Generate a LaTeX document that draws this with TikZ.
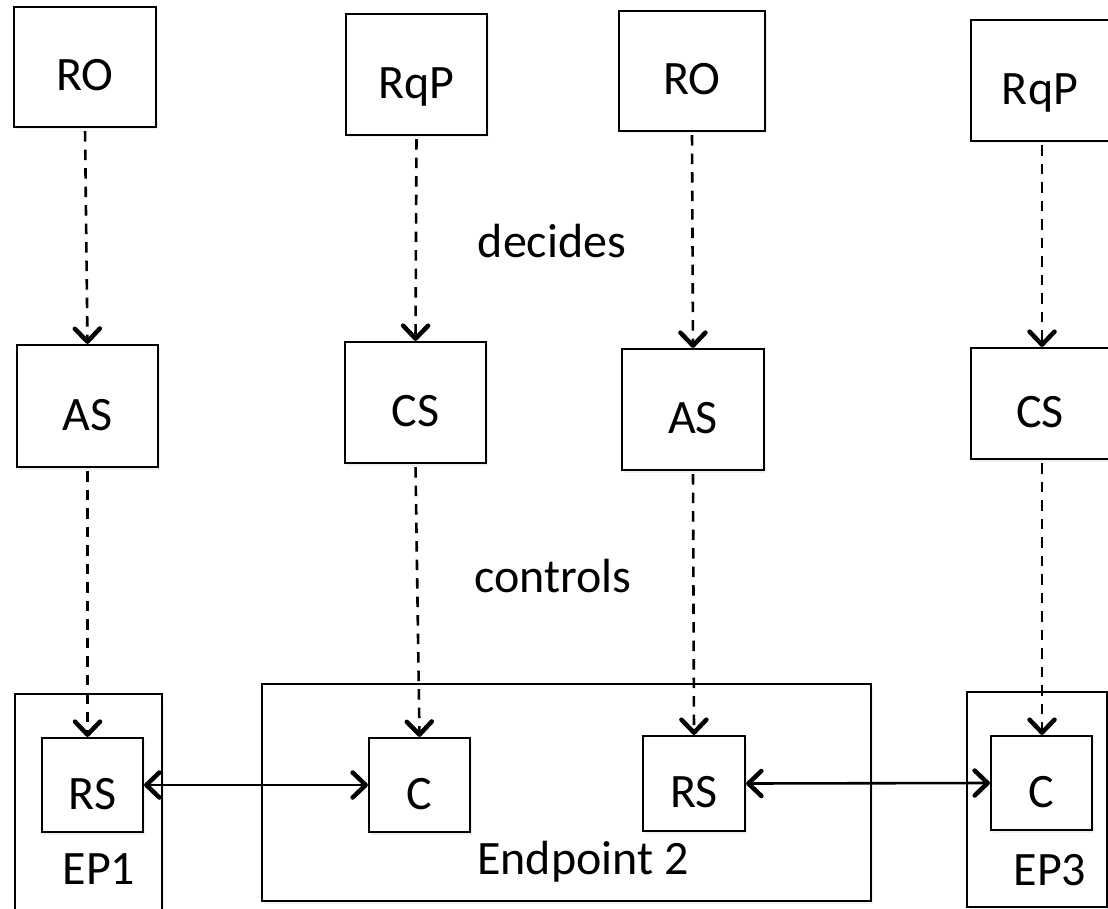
\documentclass[tikz,border=0pt]{standalone}
\usepackage{fontspec}
\setmainfont{Carlito}
\usetikzlibrary{arrows.meta,shadows}
\tikzset{
  box/.style={draw, line width=2.2pt, fill=white, inner sep=0pt,
    text height=48pt, text depth=0pt,
    font=\fontsize{48}{50}\selectfont,
    drop shadow={shadow xshift=2pt, shadow yshift=-2.5pt, fill=black!12}},
  lbl/.style={inner sep=0pt, anchor=base, font=\fontsize{48}{50}\selectfont},
  chev/.tip={Straight Barb[length=13pt, width=25pt, line width=4.5pt, round]},
  ctrl/.style={line width=2.6pt, dash pattern=on 10.5pt off 8pt, -chev, shorten <=3pt},
  link/.style={line width=2.6pt, chev-chev},
}
\begin{document}
\begin{tikzpicture}[x=1pt, y=-1pt]
\useasboundingbox (0,0) rectangle (1108,909);
\clip (0,0) rectangle (1108,909);

% top row
\node[box, minimum width=142pt, minimum height=120pt] (ro1)  at (85,67)     {RO};
\node[box, minimum width=141pt, minimum height=121pt] (rqp1) at (416.5,74.5) {RqP};
\node[box, minimum width=146pt, minimum height=120pt] (ro2)  at (692,71)    {RO};
\node[box, minimum width=138pt, minimum height=121pt] (rqp2) at (1040,80.5) {RqP};

% middle row
\node[box, minimum width=141pt, minimum height=122pt] (as1) at (87.5,406)   {AS};
\node[box, minimum width=141pt, minimum height=121pt] (cs1) at (415.5,402.5) {CS};
\node[box, minimum width=142pt, minimum height=121pt] (as2) at (693,409.5)  {AS};
\node[box, minimum width=138pt, minimum height=111pt] (cs2) at (1040,403.5) {CS};

% endpoints
\node[box, minimum width=147pt, minimum height=221pt] (ep1) at (88.5,804.5) {};
\node[box, minimum width=609pt, minimum height=217pt] (ep2) at (566.5,792.5) {};
\node[box, minimum width=140pt, minimum height=215pt] (ep3) at (1037,799.5) {};

\node[box, minimum width=101pt, minimum height=94pt] (rs1) at (92.5,785)   {RS};
\node[box, minimum width=101pt, minimum height=94pt] (c2)  at (419.5,785)  {C};
\node[box, minimum width=102pt, minimum height=95pt] (rs2) at (694,783.5)  {RS};
\node[box, minimum width=101pt, minimum height=94pt] (c3)  at (1041.5,783) {C};

\node[lbl] (ep1lbl) at (99,884)  {EP1};
\node[lbl] (ep2lbl) at (583,874) {Endpoint 2};
\node[lbl] (ep3lbl) at (1050,885) {EP3};

\node[lbl] (decides)  at (552,258) {decides};
\node[lbl] (controls) at (553,592) {controls};

% dashed relations
\draw[ctrl] (ro1.south)  -- (as1.north);
\draw[ctrl] (rqp1.south) -- (cs1.north);
\draw[ctrl] (ro2.south)  -- (as2.north);
\draw[ctrl] ([xshift=2pt]rqp2.south) -- ([xshift=2pt]rqp2.south |- cs2.north);
\draw[ctrl] (as1.south)  -- (as1.south |- rs1.north);
\draw[ctrl] (cs1.south)  -- (c2.north);
\draw[ctrl] (as2.south)  -- (rs2.north);
\draw[ctrl] ([xshift=2pt]cs2.south) -- ([xshift=2pt]cs2.south |- c3.north);

% links
\draw[link] (rs1.east) -- (c2.west);
\draw[link] (rs2.east) -- (c3.west);
\end{tikzpicture}
\end{document}
